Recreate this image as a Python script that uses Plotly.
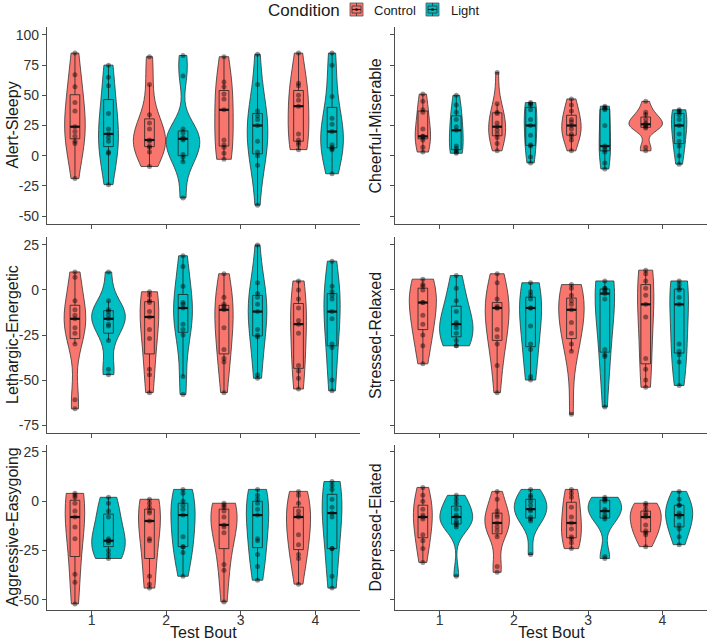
import numpy as np
import plotly.graph_objects as go

# ---------------- data (values per test bout 1..4) ----------------
bouts = [1, 2, 3, 4]
conditions = ["Control", "Light"]
cond_colors = {"Control": "#F8766D", "Light": "#00BFC4"}

alert_sleepy_control = [
    [-19, 10, 12, 16, 20, 24, 37, 44, 57, 67, 85],
    [-9, 3, 7, 8, 12, 13, 22, 27, 34, 59, 82],
    [-3, 2, 7, 9, 13, 38, 47, 51, 57, 61, 82],
    [5, 9, 11, 13, 18, 41, 46, 50, 58, 60, 85],
]
alert_sleepy_light = [
    [-24, 2, 3, 12, 15, 18, 22, 35, 58, 65, 75],
    [-35, -5, -1, 1, 13, 14, 15, 19, 22, 66, 83],
    [-41, -8, 0, 3, 12, 25, 30, 33, 37, 59, 84],
    [-15, 5, 6, 7, 9, 20, 26, 31, 49, 75, 85],
]
cheerful_miserable_control = [
    [3, 7, 13, 15, 16, 16, 22, 36, 38, 45, 51],
    [4, 10, 15, 18, 21, 24, 27, 35, 36, 43, 69],
    [4, 13, 16, 18, 22, 25, 28, 30, 37, 42, 47],
    [4, 7, 23, 24, 25, 26, 27, 30, 34, 36, 45],
]
cheerful_miserable_light = [
    [2, 3, 4, 6, 8, 21, 24, 30, 36, 42, 50],
    [-6, -1, 8, 9, 17, 25, 30, 38, 42, 43, 44],
    [-11, -6, 3, 5, 7, 8, 25, 38, 39, 40, 41],
    [-7, 0, 8, 12, 18, 25, 30, 34, 36, 37, 38],
]
lethargic_energetic_control = [
    [-66, -61, -30, -24, -21, -16, -14, -11, -6, 7, 10],
    [-57, -47, -44, -27, -22, -15, -12, -7, -6, -3, -1],
    [-57, -40, -38, -33, -21, -11, -10, -9, -8, -4, 9],
    [-55, -49, -45, -42, -24, -19, -17, -10, -5, 0, 5],
]
lethargic_energetic_light = [
    [-47, -44, -28, -20, -19, -16, -14, -12, -11, -6, 10],
    [-58, -48, -25, -22, -19, -10, -8, -7, 2, 13, 19],
    [-49, -47, -26, -25, -22, -12, -8, -4, -2, 4, 25],
    [-56, -50, -32, -30, -16, -12, -5, -3, -1, 2, 16],
]
stressed_relaxed_control = [
    [-41, -31, -25, -19, -14, -7, -7, 0, 2, 3, 6],
    [-57, -42, -30, -26, -22, -10, -10, -9, -5, 4, 9],
    [-69, -34, -30, -24, -18, -11, -8, -6, -3, 1, 3],
    [-54, -50, -44, -38, -15, -8, -3, 1, 5, 9, 11],
]
stressed_relaxed_light = [
    [-31, -31, -28, -24, -21, -19, -18, -12, -6, 1, 8],
    [-50, -48, -33, -30, -20, -10, -10, -5, -3, -1, 4],
    [-65, -37, -36, -33, -5, -2, -1, 0, 1, 1, 5],
    [-53, -40, -36, -34, -30, -8, -4, 0, 1, 3, 5],
]
aggressive_easygoing_control = [
    [-52, -41, -37, -19, -13, -8, -5, -1, 2, 3, 4],
    [-44, -42, -38, -20, -19, -10, -6, -5, -3, -1, 1],
    [-51, -35, -32, -16, -13, -12, -8, -5, -3, -2, -1],
    [-42, -29, -27, -22, -17, -8, -7, -5, -1, 3, 5],
]
aggressive_easygoing_light = [
    [-29, -27, -25, -21, -20, -20, -19, -8, -5, -1, 2],
    [-38, -26, -23, -23, -18, -7, -4, -2, 0, 4, 6],
    [-40, -33, -27, -20, -19, -7, -4, -1, 1, 3, 6],
    [-44, -38, -24, -24, -8, -6, -3, 1, 6, 8, 10],
]
depressed_elated_control = [
    [-31, -24, -20, -17, -9, -8, -7, -4, 0, 3, 7],
    [-36, -33, -18, -15, -13, -11, -8, -7, -5, 1, 5],
    [-24, -21, -19, -18, -14, -11, -8, -3, 2, 4, 6],
    [-23, -17, -16, -15, -12, -8, -7, -6, -4, -2, -1],
]
depressed_elated_light = [
    [-38, -13, -12, -11, -10, -8, -7, -4, -1, 1, 3],
    [-27, -10, -9, -8, -5, -4, -2, 0, 2, 3, 6],
    [-29, -28, -9, -8, -7, -5, -4, 0, 1, 1, 2],
    [-22, -18, -14, -12, -8, -7, -6, -2, -2, 1, 5],
]

panel_titles = ["Alert-Sleepy", "Cheerful-Miserable", "Lethargic-Energetic",
                "Stressed-Relaxed", "Aggressive-Easygoing", "Depressed-Elated"]
panel_data = [
    (alert_sleepy_control, alert_sleepy_light),
    (cheerful_miserable_control, cheerful_miserable_light),
    (lethargic_energetic_control, lethargic_energetic_light),
    (stressed_relaxed_control, stressed_relaxed_light),
    (aggressive_easygoing_control, aggressive_easygoing_light),
    (depressed_elated_control, depressed_elated_light),
]
row_y_ticks = [[-50, -25, 0, 25, 50, 75, 100], [-75, -50, -25, 0, 25], [-50, -25, 0, 25]]
row_y_ranges = [[-56.6, 106.6], [-79.4, 29.4], [-55.1, 28.5]]

# ---------------- layout geometry ----------------
W, H = 709, 643
col_dom = [[47 / W, 360 / W], [395 / W, 707 / W]]
row_px = [(27, 224), (237, 433), (445, 610)]
row_dom = [[1 - b / H, 1 - t / H] for t, b in row_px]
DODGE = 0.225
GROUP_W = 0.45
BOX_W = 0.13
BW_ADJUST = 1.5
FONT = "Liberation Sans, Arial, sans-serif"


def nrd0(v):
    v = np.asarray(v, float)
    sd = v.std(ddof=1)
    q75, q25 = np.percentile(v, [75, 25])
    lo = min(sd, (q75 - q25) / 1.34)
    if lo <= 0:
        lo = sd if sd > 0 else 1.0
    return 0.9 * lo * len(v) ** -0.2


def max_density(v, bw):
    v = np.asarray(v, float)
    g = np.linspace(v.min(), v.max(), 512)
    d = np.exp(-0.5 * ((g[:, None] - v[None, :]) / bw) ** 2).sum(1) / (len(v) * bw * np.sqrt(2 * np.pi))
    return d.max()


fig = go.Figure()
annotations = []
shapes = []

for p, (ctrl, light) in enumerate(panel_data):
    r, c = divmod(p, 2)
    ax = "" if p == 0 else str(p + 1)
    xref, yref = "x" + ax, "y" + ax
    groups = []
    for cond, series in (("Control", ctrl), ("Light", light)):
        for b, vals in zip(bouts, series):
            bw = nrd0(vals) * BW_ADJUST
            groups.append((cond, b, vals, bw, max_density(vals, bw)))
    dmax = max(g[4] for g in groups)
    med_x, med_y = [], []
    for cond, b, vals, bw, md in groups:
        xpos = b + (-DODGE if cond == "Control" else DODGE)
        fig.add_trace(go.Violin(
            y=vals, x0=xpos, xaxis=xref, yaxis=yref, width=GROUP_W * md / dmax,
            bandwidth=bw, spanmode="hard", points=False, box_visible=False,
            fillcolor=cond_colors[cond], line=dict(color="#333333", width=0.8),
            opacity=1, name=cond, showlegend=False, hoverinfo="skip"))
        fig.add_trace(go.Box(
            y=vals, x0=xpos, xaxis=xref, yaxis=yref, width=BOX_W,
            fillcolor="rgba(0,0,0,0)", line=dict(color="#222222", width=0.8),
            whiskerwidth=0, boxpoints="outliers", quartilemethod="inclusive",
            marker=dict(opacity=0, size=1), showlegend=False, hoverinfo="skip"))
        fig.add_trace(go.Scatter(
            x=[xpos] * len(vals), y=vals, xaxis=xref, yaxis=yref, mode="markers",
            marker=dict(color="rgba(0,0,0,0.42)", size=5), showlegend=False,
            hoverinfo="skip"))
        m = float(np.median(vals))
        med_x += [xpos - BOX_W / 2, xpos + BOX_W / 2, None]
        med_y += [m, m, None]
    fig.add_trace(go.Scatter(x=med_x, y=med_y, xaxis=xref, yaxis=yref, mode="lines",
                             line=dict(color="#111111", width=2.2), showlegend=False,
                             hoverinfo="skip"))

    axis_style = dict(showline=True, linecolor="#4d4d4d", linewidth=1.3, ticks="outside",
                      ticklen=4, tickcolor="#4d4d4d", tickwidth=1, showgrid=False,
                      zeroline=False, fixedrange=True, automargin=False,
                      tickfont=dict(family=FONT, size=14, color="#333333"))
    fig.layout["xaxis" + ax] = dict(
        domain=col_dom[c], range=[0.4, 4.6], anchor=yref, tickvals=bouts,
        ticktext=[str(b) for b in bouts], showticklabels=(r == 2),
        ticklabelstandoff=-7, **axis_style)
    fig.layout["yaxis" + ax] = dict(
        domain=row_dom[r], range=row_y_ranges[r], anchor=xref,
        tickvals=row_y_ticks[r], ticktext=[str(t) for t in row_y_ticks[r]],
        showticklabels=(c == 0), **axis_style)

    annotations.append(dict(
        text=panel_titles[p], xref="paper", yref="paper",
        x=(12 if c == 0 else 375) / W, y=1 - (row_px[r][0] + row_px[r][1]) / 2 / H,
        textangle=-90, showarrow=False, xanchor="center", yanchor="middle",
        font=dict(family=FONT, size=16, color="#1a1a1a")))
    if r == 2:
        annotations.append(dict(
            text="Test Bout", xref="paper", yref="paper",
            x=(col_dom[c][0] + col_dom[c][1]) / 2, y=0,
            showarrow=False, xanchor="center", yanchor="bottom",
            font=dict(family=FONT, size=16, color="#1a1a1a")))

# ---------------- legend (drawn as key glyphs + text) ----------------
def px_x(x):
    return x / W


def px_y(y):
    return 1 - y / H


annotations.append(dict(text="Condition", xref="paper", yref="paper", x=px_x(266), y=px_y(10),
                        xanchor="left", yanchor="middle", showarrow=False,
                        font=dict(family=FONT, size=17, color="#1a1a1a")))
for cond, kx, tx in (("Control", 350, 372), ("Light", 426, 449)):
    x0, x1, y0, y1 = kx, kx + 13, 3, 16
    shapes.append(dict(type="rect", xref="paper", yref="paper", x0=px_x(x0), x1=px_x(x1),
                       y0=px_y(y1), y1=px_y(y0), fillcolor=cond_colors[cond],
                       line=dict(color="#555555", width=0.8)))
    shapes.append(dict(type="rect", xref="paper", yref="paper", x0=px_x(x0 + 2), x1=px_x(x1 - 2),
                       y0=px_y(y1 - 3), y1=px_y(y0 + 3), fillcolor="rgba(0,0,0,0)",
                       line=dict(color="#333333", width=0.8)))
    shapes.append(dict(type="line", xref="paper", yref="paper", x0=px_x(x0 + 2), x1=px_x(x1 - 2),
                       y0=px_y(9.5), y1=px_y(9.5), line=dict(color="#222222", width=1.2)))
    for ya, yb in ((y0, y0 + 3), (y1 - 3, y1)):
        shapes.append(dict(type="line", xref="paper", yref="paper", x0=px_x(kx + 6.5),
                           x1=px_x(kx + 6.5), y0=px_y(ya), y1=px_y(yb),
                           line=dict(color="#333333", width=0.8)))
    shapes.append(dict(type="circle", xref="paper", yref="paper", x0=px_x(kx + 5),
                       x1=px_x(kx + 8), y0=px_y(11), y1=px_y(8),
                       fillcolor="rgba(0,0,0,0.6)", line=dict(width=0)))
    annotations.append(dict(text=cond, xref="paper", yref="paper", x=px_x(tx), y=px_y(10),
                            xanchor="left", yanchor="middle", showarrow=False,
                            font=dict(family=FONT, size=13, color="#1a1a1a")))

fig.update_layout(
    width=W, height=H, margin=dict(l=0, r=0, t=0, b=0, autoexpand=False),
    paper_bgcolor="white", plot_bgcolor="white",
    violinmode="overlay", boxmode="overlay",
    annotations=annotations, shapes=shapes, showlegend=False,
    font=dict(family=FONT),
)

fig.write_html("out.html", config={"displayModeBar": False},
               post_script="document.body.style.margin='0px';document.body.style.overflow='hidden';")
